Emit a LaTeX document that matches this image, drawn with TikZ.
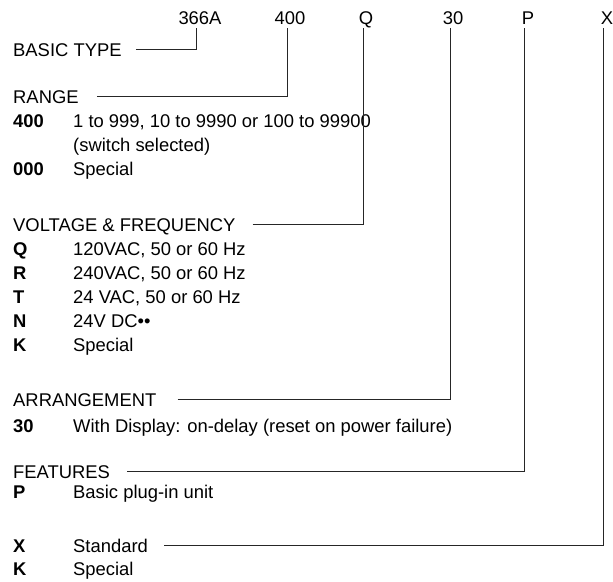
\documentclass[tikz,border=0pt]{standalone}
\usepackage{fontspec}
\setmainfont{Liberation Sans}
\usepackage{tikz}
\usetikzlibrary{calc}
\newcommand{\cfont}{\fontsize{18.4}{22}\selectfont}
\tikzset{
  code/.style={inner sep=0pt,anchor=base,text depth=0pt,font=\cfont},
  heading/.style={inner sep=0pt,anchor=base west,text height=13pt,text depth=0pt,font=\cfont},
  key/.style={inner sep=0pt,anchor=base west,font=\cfont\bfseries},
  entry/.style={inner sep=0pt,anchor=base west,font=\cfont},
  leader/.style={line width=1pt,black!85}
}

\begin{document}
\begin{tikzpicture}[x=1pt,y=-1pt]
  \useasboundingbox (0,0) rectangle (613,581);

  \node[code] (c366) at (200,24) {366A};
  \node[code] (c400) at (290,24) {400};
  \node[code] (cQ) at (366,24) {Q};
  \node[code] (c30) at (453,24) {30};
  \node[code] (cP) at (528,24) {P};
  \node[code] (cX) at (607,24) {X};

  \node[heading] (basic) at (13,56) {BASIC TYPE};

  \node[heading] (range) at (13,103) {RANGE};
  \node[key] (k400) at (13,127) {400};
  \node[entry] (e400) at (73,127) {1 to 999, 10 to 9990 or 100 to 99900};
  \node[entry] (e400b) at (73,151) {(switch selected)};
  \node[key] (k000) at (13,175) {000};
  \node[entry] (e000) at (73,175) {Special};

  \node[heading] (volt) at (13,231) {VOLTAGE \& FREQUENCY};
  \node[key] (kQ) at (13,255) {Q};
  \node[entry] (eQ) at (73,255) {120VAC, 50 or 60 Hz};
  \node[key] (kR) at (13,279) {R};
  \node[entry] (eR) at (73,279) {240VAC, 50 or 60 Hz};
  \node[key] (kT) at (13,303) {T};
  \node[entry] (eT) at (73,303) {24 VAC, 50 or 60 Hz};
  \node[key] (kN) at (13,327) {N};
  \node[entry] (eN) at (73,327) {24V DC••};
  \node[key] (kK) at (13,351) {K};
  \node[entry] (eK) at (73,351) {Special};

  \node[heading] (arrange) at (13,406) {ARRANGEMENT};
  \node[key] (k30) at (13,432) {30};
  \node[entry] (e30) at (73,432) {With Display: on-delay (reset on power failure)};

  \node[heading] (feat) at (13,478) {FEATURES};
  \node[key] (kP) at (13,498) {P};
  \node[entry] (eP) at (73,498) {Basic plug-in unit};

  \node[key] (kX) at (13,552) {X};
  \node[heading] (std) at (73,552) {Standard};
  \node[key] (kK2) at (13,575) {K};
  \node[entry] (eK2) at (73,575) {Special};

  \draw[leader] ([xshift=14pt]basic.east) -| ([xshift=-4pt,yshift=-4pt]c366.south);
  \draw[leader] ([xshift=18pt]range.east) -| ([xshift=-3pt,yshift=-4pt]c400.south);
  \draw[leader] ([xshift=17pt]volt.east) -| ([xshift=-3pt,yshift=-4pt]cQ.south);
  \draw[leader] ([xshift=21pt]arrange.east) -| ([xshift=-3pt,yshift=-4pt]c30.south);
  \draw[leader] ([xshift=17pt]feat.east) -| ([xshift=-4pt,yshift=-4pt]cP.south);
  \draw[leader] ([xshift=16pt]std.east) -| ([xshift=-4pt,yshift=-4pt]cX.south);
\end{tikzpicture}
\end{document}
